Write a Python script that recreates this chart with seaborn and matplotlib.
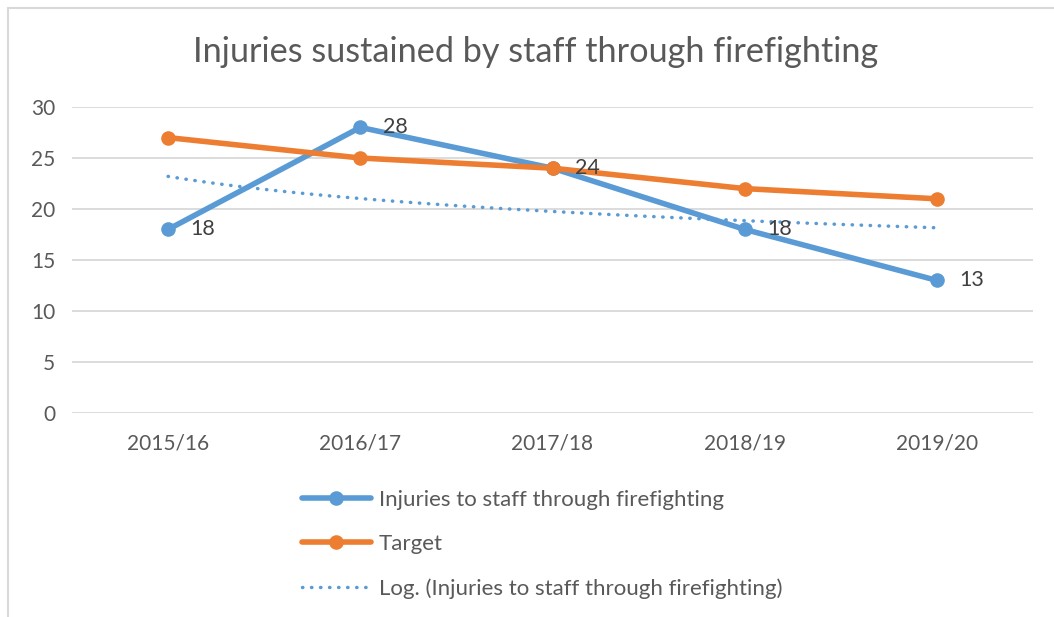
import matplotlib
matplotlib.use("Agg")
import matplotlib.pyplot as plt
from matplotlib.lines import Line2D
import seaborn as sns
import pandas as pd

categories = ["2015/16", "2016/17", "2017/18", "2018/19", "2019/20"]
injuries = [18, 28, 24, 18, 13]
target = [27, 25, 24, 22, 21]
positions = [1, 2, 3, 4, 5]

title = "Injuries sustained by staff through firefighting"
label_inj = "Injuries to staff through firefighting"
label_tgt = "Target"
label_log = "Log. (Injuries to staff through firefighting)"

BLUE = "#5B9BD5"
ORANGE = "#ED7D31"
GRID = "#D9D9D9"
TEXT = "#595959"

sns.set_theme(style="white")
plt.rcParams["font.family"] = ["Lato", "DejaVu Sans"]

df = pd.DataFrame({"pos": positions, "injuries": injuries, "target": target})

fig = plt.figure(figsize=(10.54, 6.17), dpi=100)
ax = fig.add_axes([72 / 1054, 1 - 413 / 617, (1033 - 72) / 1054, (413 - 107) / 617])

sns.lineplot(data=df, x="pos", y="injuries", ax=ax, color=BLUE, lw=4,
             marker="o", markersize=10.5, markeredgewidth=0, zorder=3)
sns.lineplot(data=df, x="pos", y="target", ax=ax, color=ORANGE, lw=4,
             marker="o", markersize=10.5, markeredgewidth=0, zorder=4)
sns.regplot(data=df, x="pos", y="injuries", ax=ax, logx=True, ci=None,
            scatter=False, color=BLUE,
            line_kws=dict(lw=2.5, linestyle=(0, (0.1, 2.5)),
                          dash_capstyle="round", zorder=5))

for x, y in zip(positions, injuries):
    ax.annotate(str(y), (x, y), xytext=(16, 0), textcoords="offset points",
                ha="left", va="center", fontsize=15.5, color="#404040", zorder=6)

ax.set_xlim(0.5, 5.5)
ax.set_ylim(0, 30)
ax.set_yticks(range(0, 31, 5))
ax.set_xticks(positions)
ax.set_xticklabels(categories)
ax.set_xlabel("")
ax.set_ylabel("")
ax.grid(axis="y", color=GRID, lw=1.3)
ax.grid(axis="x", visible=False)
ax.set_axisbelow(True)
for s in ax.spines.values():
    s.set_visible(False)
ax.tick_params(axis="y", length=0, pad=12, labelsize=15, labelcolor=TEXT)
ax.tick_params(axis="x", length=0, pad=15, labelsize=15, labelcolor=TEXT)

fig.text(536 / 1054, 1 - 52 / 617, title, ha="center", va="center",
         fontsize=24.7, color=TEXT)

handles = [
    Line2D([], [], color=BLUE, lw=4, marker="o", markersize=10.5, markeredgewidth=0,
           solid_capstyle="round"),
    Line2D([], [], color=ORANGE, lw=4, marker="o", markersize=10.5, markeredgewidth=0,
           solid_capstyle="round"),
    Line2D([], [], color=BLUE, lw=2.5, linestyle=(0, (0.1, 2.5)), dash_capstyle="round"),
]
leg = fig.legend(handles, [label_inj, label_tgt, label_log], loc="upper left",
                 bbox_to_anchor=(302 / 1054, 1 - 490 / 617), frameon=False,
                 fontsize=16, handlelength=3.1, handletextpad=0.36,
                 labelspacing=1.085, borderpad=0, borderaxespad=0)
for t in leg.get_texts():
    t.set_color(TEXT)

fig.add_artist(Line2D([8 / 1054, 8 / 1054], [0, 1 - 8 / 617], transform=fig.transFigure,
                      color=GRID, lw=1.5))
fig.add_artist(Line2D([8 / 1054, 1], [1 - 8 / 617, 1 - 8 / 617], transform=fig.transFigure,
                      color=GRID, lw=1.5))

fig.savefig("out.png", dpi=100)
